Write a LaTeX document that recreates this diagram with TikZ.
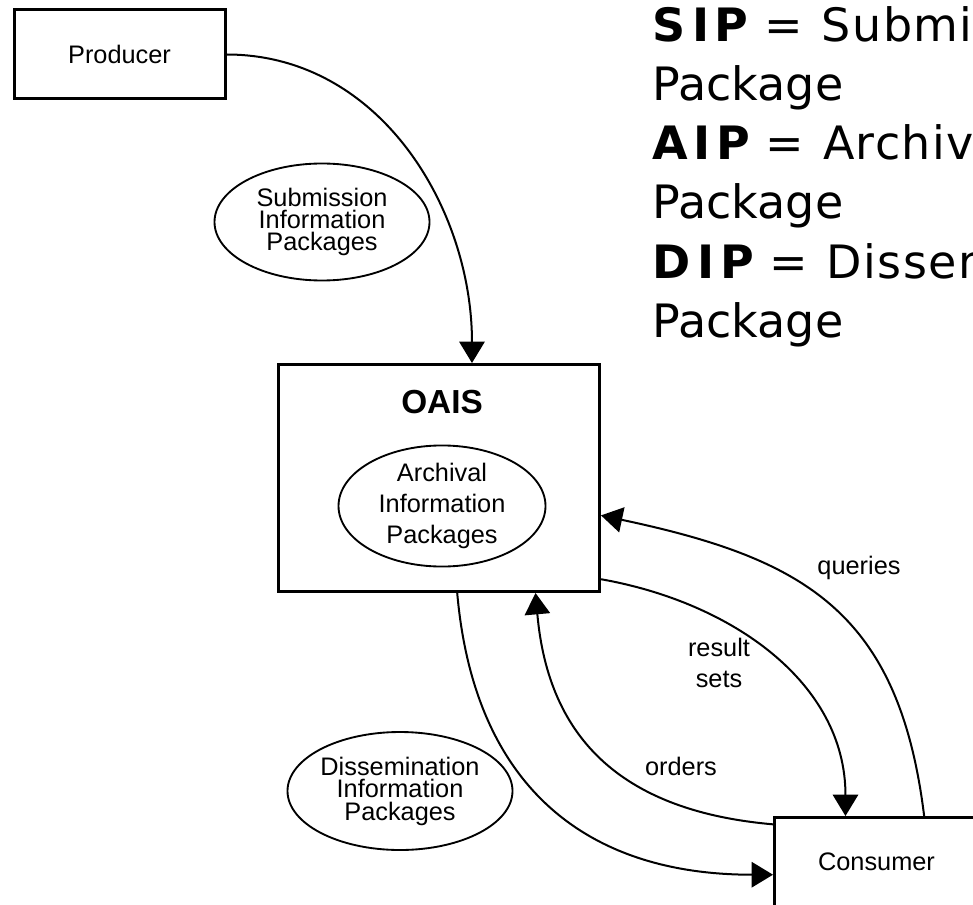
\documentclass[tikz,border=0pt]{standalone}
\usepackage{fontspec}
\setmainfont{Liberation Sans}
\newfontfamily\legendfont{DejaVu Sans}
\newfontfamily\legendwide[LetterSpace=3]{DejaVu Sans}
\usetikzlibrary{arrows.meta,shapes.geometric}
\begin{document}
\begin{tikzpicture}[x=0.75pt,y=0.75pt,
  box/.style={draw,rectangle,line width=2.25pt,inner sep=0pt,font=\fontsize{19}{22}\selectfont},
  pkg/.style={draw,ellipse,line width=1.4pt,inner sep=0pt,align=center},
  flow/.style={line width=1.5pt,-{Triangle[length=16pt,width=19pt]}},
  lbl/.style={inner sep=0pt,align=center,font=\fontsize{19}{23.25}\selectfont},
  legend/.style={inner sep=0pt,align=left,anchor=north west,font=\legendfont\fontsize{34.5}{44.4}\selectfont}
]
\useasboundingbox (0,0) rectangle (973,-905);
\clip (0,0) rectangle (973,-905);
\fill[white] (0,0) rectangle (973,-905);

% boxes
\node[box,minimum width=158.25pt,minimum height=66.75pt] (producer) at (119.5,-54.5) {Producer};
\node[box,minimum width=240.75pt,minimum height=170.25pt] (oais) at (439,-478) {};
\node[box,minimum width=153pt,minimum height=66.75pt] (consumer) at (876.5,-862) {Consumer};
\node[inner sep=0pt,anchor=base,font=\bfseries\fontsize{25}{30}\selectfont] (oaistitle) at (442,-413) {OAIS};

% packages
\node[pkg,minimum width=161.25pt,minimum height=87.75pt,font=\fontsize{19}{16.5}\selectfont] (sip) at (322,-222) {Submission\\Information\\Packages};
\node[pkg,minimum width=155.25pt,minimum height=90pt,font=\fontsize{19}{23.25}\selectfont] (aip) at (442,-506) {Archival\\Information\\Packages};
\node[pkg,minimum width=161.25pt,minimum height=88.5pt,font=\fontsize{19}{16.9}\selectfont] (dip) at (400,-791) {Dissemination\\Information\\Packages};

% legend
\node[legend] (legendtext) at (652.5,-6) {{\bfseries S\kern5pt I\kern4pt P}{\legendwide{} = \kern2pt Submission Information}\\Package\\{\bfseries A\kern4pt I\kern4pt P}{\legendwide{} = \kern2pt Archival Information}\\Package\\{\bfseries D\kern5pt I\kern4pt P}{\legendwide{} = \kern2pt Dissemination Information}\\Package};

% labels
\node[lbl] (lqueries) at (859,-568) {queries};
\node[lbl] (lresult) at (719,-663) {result\\sets};
\node[lbl] (lorders) at (681,-766) {orders};

% flows
\draw[flow] (producer.east) to[out=0,in=90] (oais.74.7);
\draw[flow] (consumer.44) to[out=97,in=-12,looseness=1.2] (oais.-13.6);
\draw[flow] (oais.-32.1) to[out=-10,in=90] (consumer.124.9);
\draw[flow] (consumer.160.9) to[out=175,in=-85,looseness=1.15] (oais.-50.4);
\draw[flow] (oais.-81.5) to[out=-85,in=180,looseness=1.15] (consumer.187.3);
\end{tikzpicture}
\end{document}
